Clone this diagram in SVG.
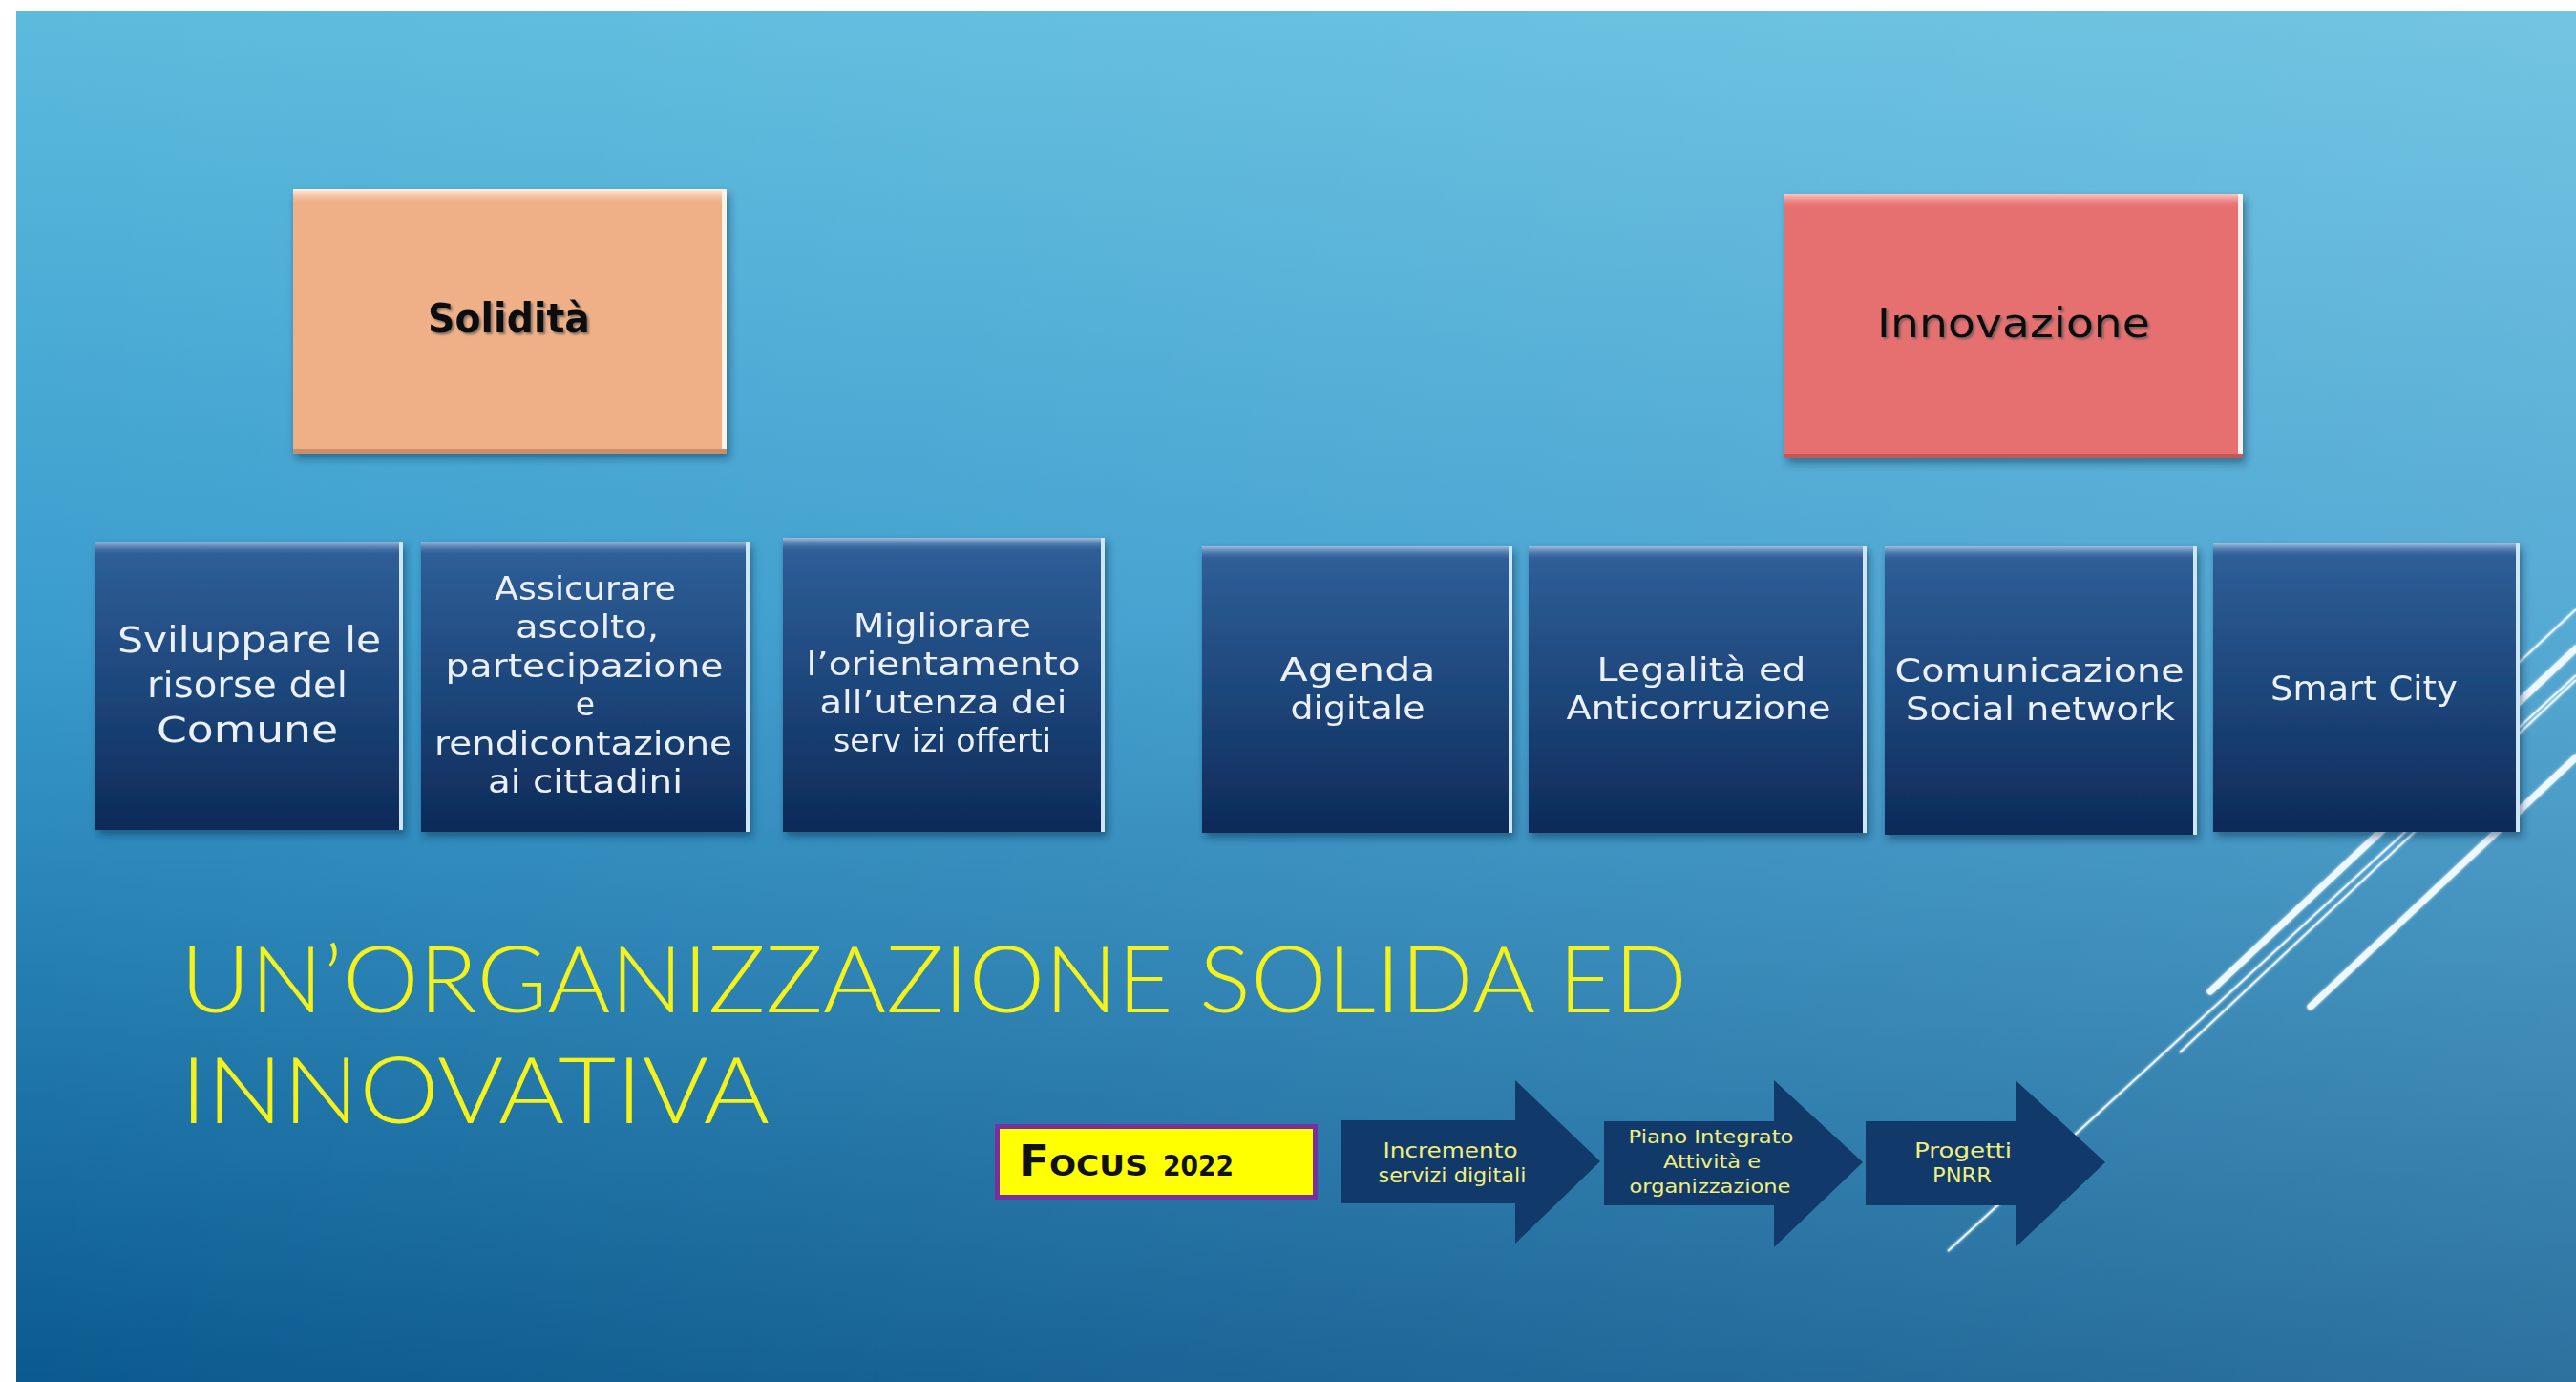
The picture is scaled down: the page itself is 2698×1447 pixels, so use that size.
<svg xmlns="http://www.w3.org/2000/svg" width="2698" height="1447" viewBox="0 0 2698 1447">
<defs>
<linearGradient id="bgV" x1="0" y1="0" x2="0" y2="1">
<stop offset="0" stop-color="#5cbbdd"/>
<stop offset="0.45" stop-color="#3a9ccd"/>
<stop offset="1" stop-color="#0b5a8f"/>
</linearGradient>
<linearGradient id="bgH" x1="0" y1="0" x2="1" y2="0">
<stop offset="0" stop-color="#ffffff" stop-opacity="0"/>
<stop offset="1" stop-color="#ffffff" stop-opacity="0.14"/>
</linearGradient>
<linearGradient id="dark" x1="0" y1="0" x2="0" y2="1">
<stop offset="0" stop-color="#30609a"/>
<stop offset="0.55" stop-color="#1c4478"/>
<stop offset="1" stop-color="#0d2a58"/>
</linearGradient>
<linearGradient id="bevelDark" x1="0" y1="0" x2="0" y2="1">
<stop offset="0" stop-color="#9fc0e0"/>
<stop offset="1" stop-color="#3a6aa2" stop-opacity="0"/>
</linearGradient>
<linearGradient id="bevelPeach" x1="0" y1="0" x2="0" y2="1">
<stop offset="0" stop-color="#fff4e4"/>
<stop offset="1" stop-color="#efb088" stop-opacity="0"/>
</linearGradient>
<linearGradient id="bevelRed" x1="0" y1="0" x2="0" y2="1">
<stop offset="0" stop-color="#fcc8c4"/>
<stop offset="1" stop-color="#e67070" stop-opacity="0"/>
</linearGradient>
<filter id="shadow" x="-10%" y="-10%" width="125%" height="125%">
<feDropShadow dx="3" dy="5" stdDeviation="4" flood-color="#06223f" flood-opacity="0.45"/>
</filter>
<filter id="tshadow" x="-10%" y="-30%" width="130%" height="160%">
<feDropShadow dx="2" dy="2" stdDeviation="1.2" flood-color="#555555" flood-opacity="0.7"/>
</filter>
<filter id="glow" x="-5%" y="-5%" width="110%" height="110%">
<feGaussianBlur stdDeviation="1.5" result="b"/>
<feMerge><feMergeNode in="b"/><feMergeNode in="SourceGraphic"/></feMerge>
</filter>
<style>
.dbox{fill:url(#dark);}
.bev{fill:url(#bevelDark);}
.redge{fill:#cfe6f6;}
.btxt{font-family:"DejaVu Sans","Liberation Sans",sans-serif;fill:#eaf0f6;text-anchor:middle;}
.title{font-family:Lato,"DejaVu Sans","Liberation Sans",sans-serif;font-weight:300;fill:#f4f21a;font-size:97px;}
.atxt{font-family:"DejaVu Sans","Liberation Sans",sans-serif;fill:#f0ee7e;text-anchor:middle;}
.arrow{fill:#113a6a;}
.thick{stroke:#eef8ff;stroke-width:7;stroke-linecap:round;fill:none;}
.thin{stroke:#e6f5ff;stroke-width:2;fill:none;}
</style>
</defs>

<rect x="0" y="0" width="2698" height="1447" fill="#ffffff"/>
<rect x="17" y="11" width="2681" height="1436" fill="url(#bgV)"/>
<rect x="17" y="11" width="2681" height="1436" fill="url(#bgH)"/>

<g id="decor" filter="url(#glow)">
<line class="thick" x1="2315" y1="1038" x2="2698" y2="679"/>
<line class="thick" x1="2420" y1="1054" x2="2698" y2="793"/>
<line class="thin" x1="2040" y1="1310" x2="2698" y2="707"/>
<line class="thin" x1="2283" y1="1102" x2="2698" y2="712"/>
<line class="thin" x1="2540" y1="785" x2="2698" y2="638"/>
</g>

<g id="connectors"></g>

<g id="n-solidita" filter="url(#shadow)">
<rect x="307" y="198" width="454" height="277" fill="#efb088"/>
<rect x="307" y="198" width="454" height="16" fill="url(#bevelPeach)"/>
<rect x="756" y="198" width="5" height="277" fill="#fff3e6"/>
<rect x="307" y="470" width="454" height="5" fill="#c98f6c"/>
<text x="533" y="348" font-family="DejaVu Sans, Liberation Sans, sans-serif" font-weight="bold" font-size="42" fill="#111111" text-anchor="middle" textLength="170" lengthAdjust="spacingAndGlyphs" filter="url(#tshadow)">Solidità</text>
</g>

<g id="n-innovazione" filter="url(#shadow)">
<rect x="1869" y="203" width="480" height="277" fill="#e67070"/>
<rect x="1869" y="203" width="480" height="16" fill="url(#bevelRed)"/>
<rect x="2344" y="203" width="5" height="277" fill="#fff0ee"/>
<rect x="1869" y="475" width="480" height="5" fill="#c25858"/>
<text x="2109" y="353" font-family="DejaVu Sans, Liberation Sans, sans-serif" font-size="42" fill="#111111" text-anchor="middle" textLength="286" lengthAdjust="spacingAndGlyphs" filter="url(#tshadow)">Innovazione</text>
</g>

<g id="n-sviluppare" filter="url(#shadow)">
<rect class="dbox" x="100" y="567" width="322" height="302"/>
<rect class="bev" x="100" y="567" width="322" height="14"/>
<rect class="redge" x="418" y="567" width="4" height="302"/>
<text class="btxt" font-size="37"><tspan x="261" y="683" textLength="276" lengthAdjust="spacingAndGlyphs">Sviluppare le</tspan><tspan x="259" y="730" textLength="210" lengthAdjust="spacingAndGlyphs">risorse del</tspan><tspan x="259" y="777" textLength="190" lengthAdjust="spacingAndGlyphs">Comune</tspan></text>
</g>

<g id="n-assicurare" filter="url(#shadow)">
<rect class="dbox" x="441" y="567" width="344" height="304"/>
<rect class="bev" x="441" y="567" width="344" height="14"/>
<rect class="redge" x="781" y="567" width="4" height="304"/>
<text class="btxt" font-size="33"><tspan x="613" y="628" textLength="190" lengthAdjust="spacingAndGlyphs">Assicurare</tspan><tspan x="615" y="668" textLength="150" lengthAdjust="spacingAndGlyphs">ascolto,</tspan><tspan x="612" y="709" textLength="291" lengthAdjust="spacingAndGlyphs">partecipazione</tspan><tspan x="613" y="749">e</tspan><tspan x="611" y="790" textLength="312" lengthAdjust="spacingAndGlyphs">rendicontazione</tspan><tspan x="613" y="830" textLength="204" lengthAdjust="spacingAndGlyphs">ai cittadini</tspan></text>
</g>

<g id="n-migliorare" filter="url(#shadow)">
<rect class="dbox" x="820" y="563" width="337" height="308"/>
<rect class="bev" x="820" y="563" width="337" height="14"/>
<rect class="redge" x="1153" y="563" width="4" height="308"/>
<text class="btxt" font-size="33"><tspan x="987" y="667" textLength="186" lengthAdjust="spacingAndGlyphs">Migliorare</tspan><tspan x="988" y="707" textLength="287" lengthAdjust="spacingAndGlyphs">l’orientamento</tspan><tspan x="988" y="747" textLength="259" lengthAdjust="spacingAndGlyphs">all’utenza dei</tspan><tspan x="987" y="787" textLength="228" lengthAdjust="spacingAndGlyphs">serv izi offerti</tspan></text>
</g>

<g id="n-agenda" filter="url(#shadow)">
<rect class="dbox" x="1259" y="572" width="325" height="300"/>
<rect class="bev" x="1259" y="572" width="325" height="14"/>
<rect class="redge" x="1580" y="572" width="4" height="300"/>
<text class="btxt" font-size="34"><tspan x="1422" y="713" textLength="163" lengthAdjust="spacingAndGlyphs">Agenda</tspan><tspan x="1422" y="753" textLength="141" lengthAdjust="spacingAndGlyphs">digitale</tspan></text>
</g>

<g id="n-legalita" filter="url(#shadow)">
<rect class="dbox" x="1601" y="572" width="354" height="300"/>
<rect class="bev" x="1601" y="572" width="354" height="14"/>
<rect class="redge" x="1951" y="572" width="4" height="300"/>
<text class="btxt" font-size="34"><tspan x="1782" y="713" textLength="219" lengthAdjust="spacingAndGlyphs">Legalità ed</tspan><tspan x="1779" y="753" textLength="277" lengthAdjust="spacingAndGlyphs">Anticorruzione</tspan></text>
</g>

<g id="n-comunicazione" filter="url(#shadow)">
<rect class="dbox" x="1974" y="572" width="327" height="302"/>
<rect class="bev" x="1974" y="572" width="327" height="14"/>
<rect class="redge" x="2297" y="572" width="4" height="302"/>
<text class="btxt" font-size="34"><tspan x="2136" y="714" textLength="303" lengthAdjust="spacingAndGlyphs">Comunicazione</tspan><tspan x="2137" y="754" textLength="282" lengthAdjust="spacingAndGlyphs">Social network</tspan></text>
</g>

<g id="n-smartcity" filter="url(#shadow)">
<rect class="dbox" x="2318" y="569" width="321" height="302"/>
<rect class="bev" x="2318" y="569" width="321" height="14"/>
<rect class="redge" x="2635" y="569" width="4" height="302"/>
<text class="btxt" font-size="35" x="2476" y="733" textLength="196" lengthAdjust="spacingAndGlyphs">Smart City</text>
</g>

<g id="n-title">
<text class="title" x="189" y="1060" textLength="1578" lengthAdjust="spacingAndGlyphs">UN’ORGANIZZAZIONE SOLIDA ED</text>
<text class="title" x="189" y="1176" textLength="617" lengthAdjust="spacingAndGlyphs">INNOVATIVA</text>
</g>

<g id="n-focus">
<rect x="1044.5" y="1179.5" width="333" height="74" fill="#ffff00" stroke="#7a2f9f" stroke-width="5"/>
<text x="1067" y="1231" font-family="DejaVu Sans, Liberation Sans, sans-serif" font-weight="bold" fill="#111111"><tspan font-size="44" font-variant="small-caps" textLength="135" lengthAdjust="spacingAndGlyphs">Focus</tspan><tspan x="1218" font-size="30" textLength="74" lengthAdjust="spacingAndGlyphs">2022</tspan></text>
</g>

<g id="n-arrow1">
<polygon class="arrow" points="1404,1173 1587,1173 1587,1131 1676,1216 1587,1302 1587,1260 1404,1260"/>
<text class="atxt" font-size="22"><tspan x="1519" y="1212" textLength="141" lengthAdjust="spacingAndGlyphs">Incremento</tspan><tspan x="1521" y="1238" textLength="155" lengthAdjust="spacingAndGlyphs">servizi digitali</tspan></text>
</g>

<g id="n-arrow2">
<polygon class="arrow" points="1680,1174 1858,1174 1858,1131 1951,1217 1858,1306 1858,1262 1680,1262"/>
<text class="atxt" font-size="20"><tspan x="1792" y="1197" textLength="173" lengthAdjust="spacingAndGlyphs">Piano Integrato</tspan><tspan x="1793" y="1223" textLength="102" lengthAdjust="spacingAndGlyphs">Attività e</tspan><tspan x="1791" y="1249" textLength="169" lengthAdjust="spacingAndGlyphs">organizzazione</tspan></text>
</g>

<g id="n-arrow3">
<polygon class="arrow" points="1954,1174 2111,1174 2111,1131 2205,1217 2111,1306 2111,1262 1954,1262"/>
<text class="atxt" font-size="22"><tspan x="2056" y="1212" textLength="102" lengthAdjust="spacingAndGlyphs">Progetti</tspan><tspan x="2055" y="1238" textLength="62" lengthAdjust="spacingAndGlyphs">PNRR</tspan></text>
</g>
</svg>
